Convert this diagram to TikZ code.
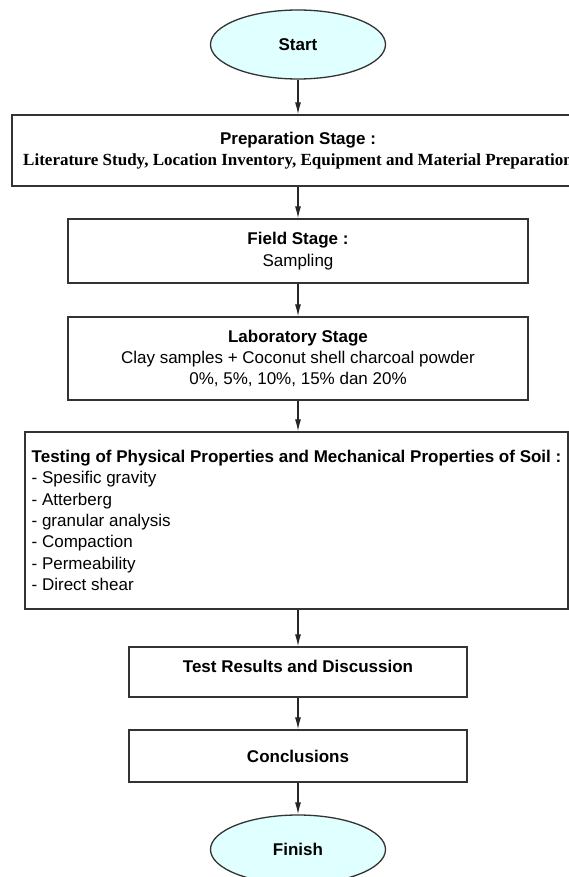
\documentclass[tikz,border=0pt]{standalone}
\usepackage{fontspec}
\setmainfont{Liberation Sans}
\newfontfamily\timesfont{Liberation Serif}
\usepackage{xcolor}
\usetikzlibrary{arrows.meta,shapes.geometric}

\definecolor{termfill}{RGB}{224,255,255}

\begin{document}
\begin{tikzpicture}[
    >={Latex[length=12pt,width=6pt]},
    x=1pt, y=-1pt,
    every node/.style={font=\fontsize{17}{21.3}\selectfont},
    term/.style={ellipse,draw=black!80,line width=1.3pt,fill=termfill,
                 minimum width=175pt,minimum height=69pt,inner sep=0pt,
                 font=\fontsize{17}{21.3}\selectfont\bfseries},
    stagebox/.style={rectangle,draw=black!80,line width=1.3pt,inner sep=2pt,
                     align=center},
    flow/.style={->,line width=1.2pt,black!85},
  ]
  \useasboundingbox (0,0) rectangle (569,877);
  \clip (0,0) rectangle (569,877);

  % --- terminals and stages, top to bottom
  \node[term] (start) at (298,44.5) {Start};
  \node[stagebox,minimum width=572pt,minimum height=71pt] (prep) at (298,150.5)
    {\textbf{Preparation Stage :}\\
     {\timesfont\bfseries Literature Study, Location Inventory, Equipment and Material Preparation}};
  \node[stagebox,minimum width=460pt,minimum height=64pt] (field) at (298,251)
    {\textbf{Field Stage :}\\Sampling};
  \node[stagebox,minimum width=460pt,minimum height=83pt] (lab) at (298,358.5)
    {\textbf{Laboratory Stage}\\Clay samples + Coconut shell charcoal powder\\
     0\%, 5\%, 10\%, 15\% dan 20\%};
  \node[stagebox,align=left,minimum width=543pt,minimum height=177pt] (testing) at (296.5,520.5)
    {\textbf{Testing of Physical Properties and Mechanical Properties of Soil :}\\
     - Spesific gravity\\
     - Atterberg\\
     - granular analysis\\
     - Compaction\\
     - Permeability\\
     - Direct shear};
  \node[stagebox,minimum width=338pt,minimum height=50pt,text height=12pt,text depth=12pt]
    (results) at (298,672) {\textbf{Test Results and Discussion}};
  \node[stagebox,minimum width=338pt,minimum height=52pt] (concl) at (298,756)
    {\textbf{Conclusions}};
  \node[term] (finish) at (298,849.5) {Finish};

  % --- flow arrows
  \draw[flow] (start) -- (prep);
  \draw[flow] (prep) -- (field);
  \draw[flow] (field) -- (lab);
  \draw[flow] (lab) -- (lab |- testing.north);
  \draw[flow] (results |- testing.south) -- (results);
  \draw[flow] (results) -- (concl);
  \draw[flow] (concl) -- (finish);

\end{tikzpicture}
\end{document}
